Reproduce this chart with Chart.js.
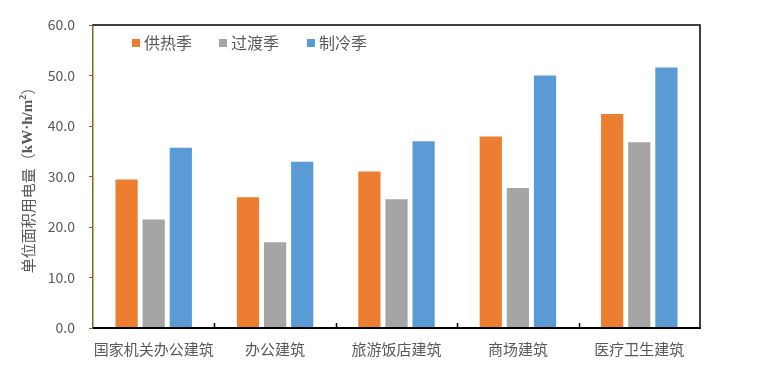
<!DOCTYPE html>
<html>
<head>
<meta charset="utf-8">
<title>单位面积用电量</title>
<script src="https://cdn.jsdelivr.net/npm/chart.js"></script>
<style>
  html, body { margin: 0; padding: 0; background: #fff; }
  #wrap { width: 758px; height: 373px; position: relative; }
</style>
</head>
<body>
<div id="wrap"><canvas id="chart"></canvas></div>
<script>
const categories = ['国家机关办公建筑', '办公建筑', '旅游饭店建筑', '商场建筑', '医疗卫生建筑'];
const heating = [29.4, 25.9, 31.0, 37.9, 42.4];
const transition = [21.5, 17.0, 25.5, 27.7, 36.8];
const cooling = [35.7, 32.9, 37.0, 50.0, 51.6];
const yTicks = [0, 10, 20, 30, 40, 50, 60];

const textColor = '#595959';
const cjk = '"Noto Sans CJK SC", "Noto Sans", sans-serif';
const serif = '"Liberation Serif", "DejaVu Serif", serif';

// y title with mixed fonts: CJK part + bold serif unit
function drawYTitle(ctx, cx, cy) {
  const parts = [
    { t: '单位面积用电量（', f: '15px ' + cjk, dy: 0 },
    { t: 'kW·h/m', f: 'bold 15px ' + serif, dy: 0 },
    { t: '2', f: 'bold 10px ' + serif, dy: -5 },
    { t: '）', f: '15px ' + cjk, dy: 0 }
  ];
  ctx.save();
  let total = 0;
  parts.forEach(p => { ctx.font = p.f; p.w = ctx.measureText(p.t).width; total += p.w; });
  ctx.translate(cx, cy);
  ctx.rotate(-Math.PI / 2);
  ctx.fillStyle = textColor;
  ctx.textBaseline = 'middle';
  let x = -total / 2;
  parts.forEach(p => {
    ctx.font = p.f;
    ctx.fillText(p.t, x, p.dy);
    x += p.w;
  });
  ctx.restore();
}

// frame, inward x ticks, legend inside the plot, y title
const framePlugin = {
  id: 'frame',
  afterDraw(chart) {
    const { ctx, chartArea: a, scales } = chart;
    ctx.save();
    ctx.strokeStyle = '#000';
    ctx.lineWidth = 1.5;
    ctx.beginPath();
    ctx.moveTo(a.left, a.top);
    ctx.lineTo(a.right, a.top);
    ctx.lineTo(a.right, a.bottom);
    ctx.stroke();
    ctx.lineWidth = 2;
    ctx.beginPath();
    ctx.moveTo(a.left, a.bottom);
    ctx.lineTo(a.right + 1, a.bottom);
    ctx.stroke();
    ctx.lineWidth = 1.5;
    for (let i = 0; i < categories.length - 1; i++) {
      const x = Math.round(scales.x.getPixelForValue(i + 0.5)) + 0.5;
      ctx.beginPath();
      ctx.moveTo(x, a.bottom);
      ctx.lineTo(x, a.bottom - 5);
      ctx.stroke();
    }
    // legend
    const legendX = [132, 219, 307];
    const legendY = 43;
    ctx.font = '16px ' + cjk;
    ctx.textBaseline = 'middle';
    chart.data.datasets.forEach((ds, i) => {
      ctx.fillStyle = ds.backgroundColor;
      ctx.fillRect(legendX[i], legendY - 4, 8, 8);
      ctx.fillStyle = textColor;
      ctx.fillText(ds.label, legendX[i] + 12, legendY);
    });
    ctx.restore();
    drawYTitle(ctx, 28, (a.top + a.bottom) / 2);
  }
};

new Chart(document.getElementById('chart'), {
  type: 'bar',
  data: {
    labels: categories,
    datasets: [
      { label: '供热季', data: heating, backgroundColor: '#ed7d31' },
      { label: '过渡季', data: transition, backgroundColor: '#a5a5a5' },
      { label: '制冷季', data: cooling, backgroundColor: '#5b9bd5' }
    ]
  },
  options: {
    responsive: true,
    maintainAspectRatio: false,
    animation: false,
    layout: { padding: { left: 0, right: 58, top: 25, bottom: 0 } },
    datasets: { bar: { categoryPercentage: 0.67, barPercentage: 0.82 } },
    plugins: {
      legend: { display: false },
      tooltip: { enabled: false }
    },
    scales: {
      x: {
        grid: { display: false, drawTicks: false },
        border: { display: false },
        ticks: {
          color: textColor,
          padding: 12,
          font: { family: cjk, size: 15 },
          maxRotation: 0,
          autoSkip: false
        },
        afterFit(scale) { scale.height = 45; }
      },
      y: {
        min: 0,
        max: 60,
        afterBuildTicks(scale) { scale.ticks = yTicks.map(v => ({ value: v })); },
        grid: { drawOnChartArea: false, tickLength: 4, color: '#7f6a2a' },
        border: { color: '#7f6a2a', width: 1.5 },
        ticks: {
          color: textColor,
          padding: 14,
          font: { family: cjk, size: 14 },
          callback: v => Number(v).toFixed(1)
        },
        afterFit(scale) { scale.width = 93; }
      }
    }
  },
  plugins: [framePlugin]
});
</script>
</body>
</html>
